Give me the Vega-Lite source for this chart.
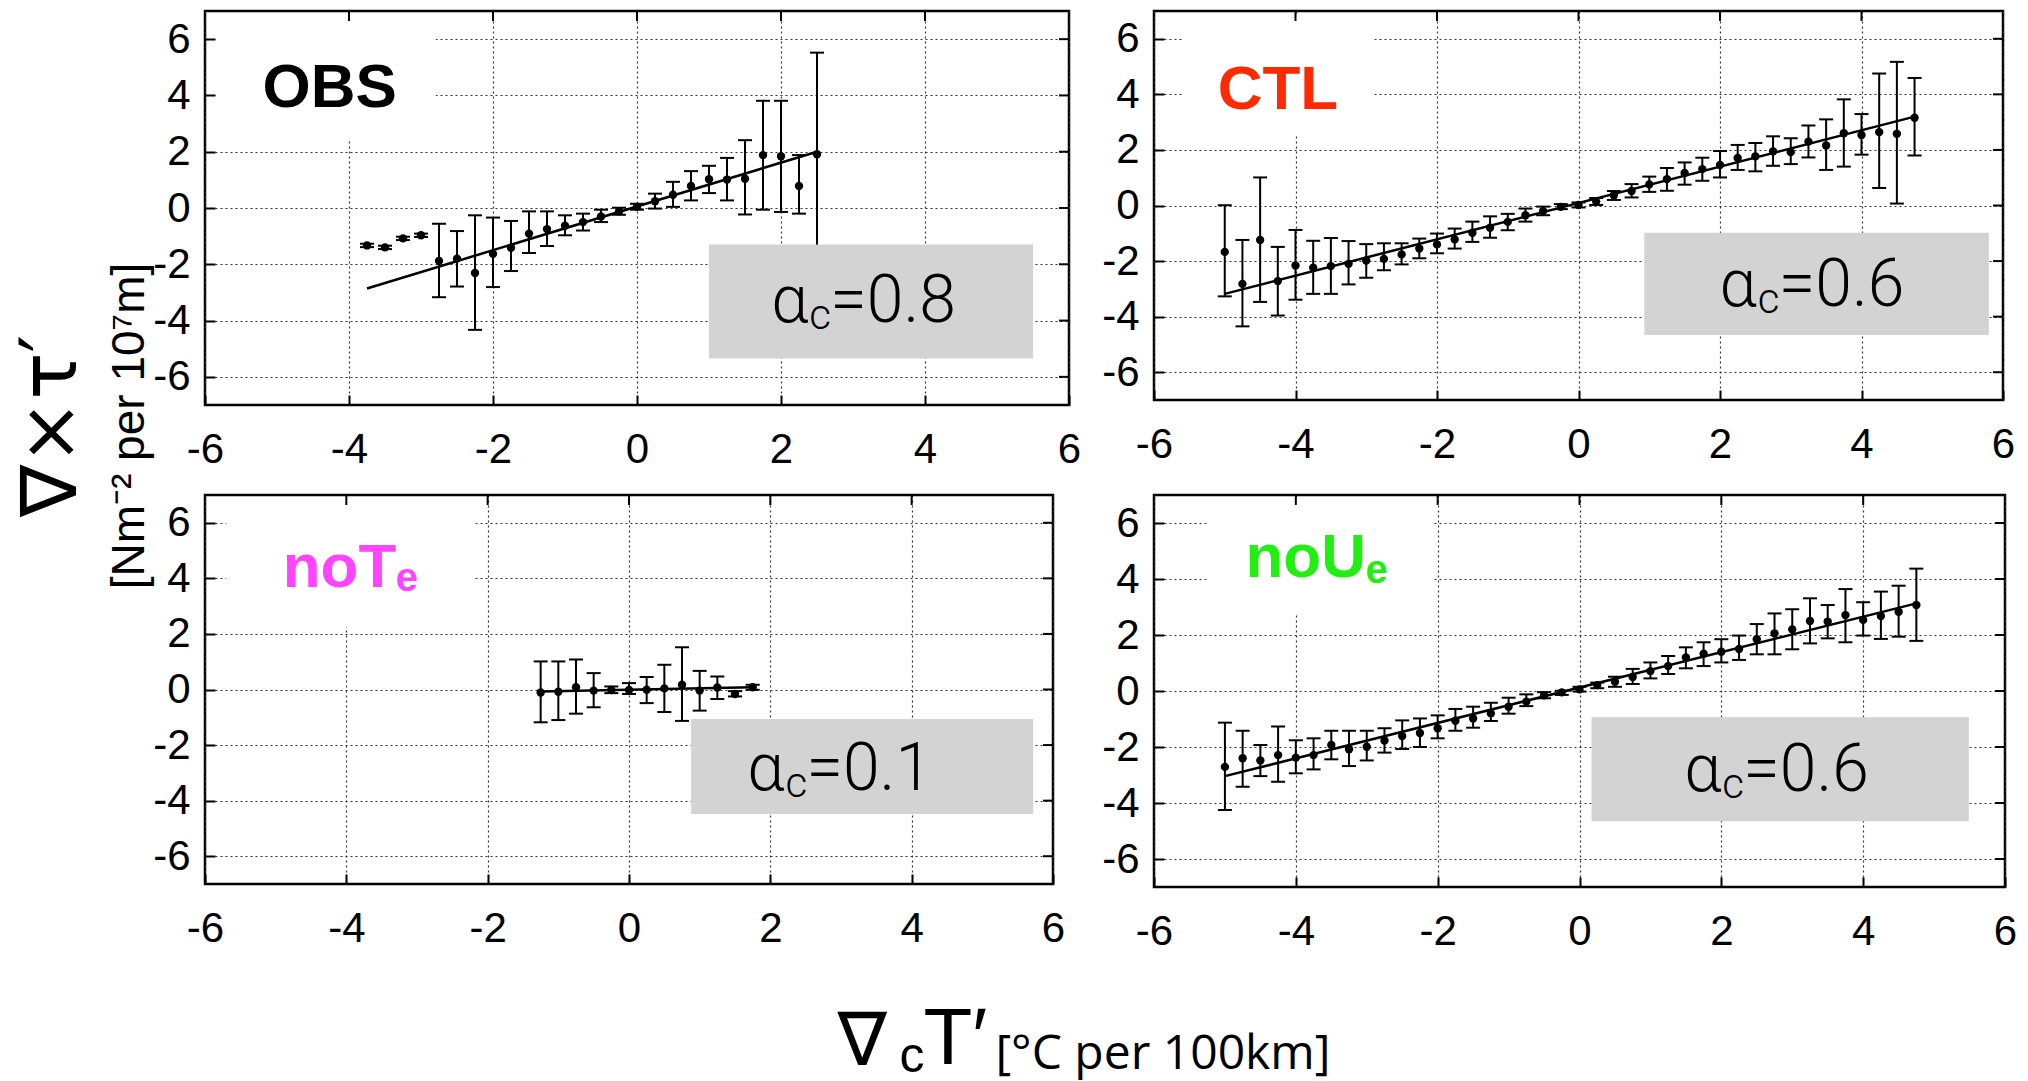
{
  "$schema": "https://vega.github.io/schema/vega-lite/v6.json",
  "background": "white",
  "autosize": {"type": "pad"},
  "padding": {"left": 14, "top": 9, "right": 0, "bottom": 30},
  "title": {
    "text": "∇×τ′",
    "subtitle": "[Nm⁻² per 10⁷m]",
    "orient": "left",
    "anchor": "middle",
    "font": "DejaVu Sans",
    "fontSize": 78,
    "fontWeight": "normal",
    "color": "#000",
    "subtitleFont": "Liberation Sans",
    "subtitleFontSize": 46,
    "subtitleColor": "#000",
    "subtitlePadding": 16,
    "offset": -2,
    "dx": 120
  },
  "vconcat": [
    {
      "title": {"text": "∇", "orient": "bottom", "anchor": "start", "baseline": "alphabetic", "font": "DejaVu Sans", "fontSize": 74, "fontWeight": "normal", "color": "#000", "offset": 0, "dx": 686, "dy": -17},
      "vconcat": [
        {
          "title": {"text": "c", "orient": "bottom", "anchor": "start", "baseline": "alphabetic", "font": "Liberation Sans", "fontSize": 50, "fontWeight": "normal", "color": "#000", "offset": 0, "dx": 748, "dy": -8},
          "vconcat": [
            {
              "title": {"text": "T′", "orient": "bottom", "anchor": "start", "baseline": "alphabetic", "font": "Liberation Sans", "fontSize": 80, "fontWeight": "normal", "color": "#000", "offset": 0, "dx": 772, "dy": -15},
              "vconcat": [
                {
                  "title": {"text": "[°C per 100km]", "orient": "bottom", "anchor": "start", "baseline": "alphabetic", "font": "Open Sans", "fontSize": 48, "fontWeight": "normal", "color": "#000", "offset": 0, "dx": 844, "dy": 116},
                  "columns": 2,
                  "bounds": "flush",
                  "spacing": {"row": 90, "column": 85},
                  "concat": [
                    {
                      "width": 864, "height": 394,
                      "data": {"values": [
                        {"x": -3.75, "y": -1.33, "lo": -1.39, "hi": -1.27},
                        {"x": -3.5, "y": -1.40, "lo": -1.46, "hi": -1.34},
                        {"x": -3.25, "y": -1.08, "lo": -1.14, "hi": -1.02},
                        {"x": -3.0, "y": -0.97, "lo": -1.03, "hi": -0.91},
                        {"x": -2.75, "y": -1.88, "lo": -3.17, "hi": -0.56},
                        {"x": -2.5, "y": -1.80, "lo": -2.79, "hi": -0.82},
                        {"x": -2.25, "y": -2.31, "lo": -4.33, "hi": -0.26},
                        {"x": -2.0, "y": -1.63, "lo": -2.81, "hi": -0.34},
                        {"x": -1.75, "y": -1.41, "lo": -2.24, "hi": -0.46},
                        {"x": -1.5, "y": -0.91, "lo": -1.60, "hi": -0.12},
                        {"x": -1.25, "y": -0.75, "lo": -1.35, "hi": -0.12},
                        {"x": -1.0, "y": -0.63, "lo": -0.97, "hi": -0.26},
                        {"x": -0.75, "y": -0.50, "lo": -0.80, "hi": -0.20},
                        {"x": -0.5, "y": -0.30, "lo": -0.50, "hi": -0.06},
                        {"x": -0.25, "y": -0.12, "lo": -0.24, "hi": 0.01},
                        {"x": 0.0, "y": 0.04, "lo": -0.06, "hi": 0.15},
                        {"x": 0.25, "y": 0.24, "lo": -0.02, "hi": 0.51},
                        {"x": 0.5, "y": 0.47, "lo": 0.04, "hi": 0.93},
                        {"x": 0.75, "y": 0.78, "lo": 0.27, "hi": 1.31},
                        {"x": 1.0, "y": 1.02, "lo": 0.53, "hi": 1.50},
                        {"x": 1.25, "y": 1.01, "lo": 0.27, "hi": 1.78},
                        {"x": 1.5, "y": 1.04, "lo": -0.23, "hi": 2.41},
                        {"x": 1.75, "y": 1.88, "lo": -0.06, "hi": 3.81},
                        {"x": 2.0, "y": 1.84, "lo": -0.14, "hi": 3.81},
                        {"x": 2.25, "y": 0.78, "lo": -0.20, "hi": 1.88},
                        {"x": 2.5, "y": 1.91, "lo": -1.70, "hi": 5.52}
                      ]},
                      "encoding": {
                        "x": {"field": "x", "type": "quantitative", "scale": {"domain": [-6, 6], "nice": false, "zero": false}, "axis": {"values": [-6, -4, -2, 0, 2, 4, 6], "title": null, "labelExpr": "datum.value < 0 ? '-' + abs(datum.value) : '' + datum.value"}},
                        "y": {"field": "y", "type": "quantitative", "scale": {"domain": [-7, 7], "nice": false, "zero": false}, "axis": {"values": [-6, -4, -2, 0, 2, 4, 6], "title": null, "labelExpr": "datum.value < 0 ? '-' + abs(datum.value) : '' + datum.value"}}
                      },
                      "layer": [
                        {"data": {"values": [{"x": -5.85, "x2": -2.8, "y": 6.85, "y2": 2.4}]}, "mark": {"type": "rect", "color": "#ffffff"}, "encoding": {"x2": {"field": "x2"}, "y2": {"field": "y2"}}},
                        {"data": {"values": [{"x": -4, "y": 7}, {"x": -2, "y": 7}, {"x": 0, "y": 7}, {"x": 2, "y": 7}, {"x": 4, "y": 7}]}, "mark": {"type": "tick", "orient": "vertical", "size": 10, "thickness": 2, "color": "#000", "opacity": 1, "yOffset": 5}},
                        {"data": {"values": [{"x": 6, "y": -6}, {"x": 6, "y": -4}, {"x": 6, "y": -2}, {"x": 6, "y": 0}, {"x": 6, "y": 2}, {"x": 6, "y": 4}, {"x": 6, "y": 6}]}, "mark": {"type": "tick", "orient": "horizontal", "size": 10, "thickness": 2, "color": "#000", "opacity": 1, "xOffset": -5}},
                        {"mark": {"type": "rule", "color": "#000", "strokeWidth": 2}, "encoding": {"y": {"field": "lo", "type": "quantitative", "axis": {"title": null}}, "y2": {"field": "hi"}}},
                        {"mark": {"type": "tick", "orient": "horizontal", "color": "#000", "size": 14, "thickness": 2, "opacity": 1}, "encoding": {"y": {"field": "lo", "type": "quantitative", "axis": {"title": null}}}},
                        {"mark": {"type": "tick", "orient": "horizontal", "color": "#000", "size": 14, "thickness": 2, "opacity": 1}, "encoding": {"y": {"field": "hi", "type": "quantitative", "axis": {"title": null}}}},
                        {"mark": {"type": "circle", "color": "#000", "size": 70, "opacity": 1}},
                        {"data": {"values": [{"x": -3.75, "y": -2.86}, {"x": 2.5, "y": 2.0}]}, "mark": {"type": "line", "color": "#000", "strokeWidth": 2.5}},
                        {"data": {"values": [{"x": 1.0, "x2": 5.5, "y": -1.3, "y2": -5.35}]}, "mark": {"type": "rect", "color": "#d3d3d3"}, "encoding": {"x2": {"field": "x2"}, "y2": {"field": "y2"}}},
                        {"data": {"values": [{"x": 2.38, "y": -4.05}]}, "layer": [
                          {"mark": {"type": "text", "text": "α", "align": "right", "baseline": "alphabetic", "font": "Roboto", "fontWeight": 300, "fontSize": 66, "color": "#000"}},
                          {"mark": {"type": "text", "text": "c", "align": "left", "baseline": "alphabetic", "font": "Roboto", "fontWeight": 300, "fontSize": 42, "dx": 1, "dy": 7, "color": "#000"}},
                          {"mark": {"type": "text", "text": "=0.8", "align": "left", "baseline": "alphabetic", "font": "Roboto", "fontWeight": 300, "fontSize": 66, "dx": 22, "color": "#000"}}
                        ]},
                        {"data": {"values": [{"x": -5.2, "y": 3.59}]}, "mark": {"type": "text", "text": "OBS", "align": "left", "baseline": "alphabetic", "font": "Liberation Sans", "fontWeight": "bold", "fontSize": 62, "color": "#000"}}
                      ]
                    },
                    {
                      "width": 849, "height": 389,
                      "data": {"values": [
                        {"x": -5, "y": -1.67, "lo": -3.27, "hi": 0.01},
                        {"x": -4.75, "y": -2.82, "lo": -4.35, "hi": -1.24},
                        {"x": -4.5, "y": -1.24, "lo": -3.47, "hi": 1.01},
                        {"x": -4.25, "y": -2.72, "lo": -3.96, "hi": -1.49},
                        {"x": -4, "y": -2.16, "lo": -3.39, "hi": -0.88},
                        {"x": -3.75, "y": -2.24, "lo": -3.18, "hi": -1.27},
                        {"x": -3.5, "y": -2.18, "lo": -3.18, "hi": -1.17},
                        {"x": -3.25, "y": -2.10, "lo": -2.84, "hi": -1.28},
                        {"x": -3, "y": -1.98, "lo": -2.60, "hi": -1.39},
                        {"x": -2.75, "y": -1.92, "lo": -2.33, "hi": -1.36},
                        {"x": -2.5, "y": -1.76, "lo": -2.12, "hi": -1.36},
                        {"x": -2.25, "y": -1.55, "lo": -1.90, "hi": -1.19},
                        {"x": -2, "y": -1.40, "lo": -1.72, "hi": -1.01},
                        {"x": -1.75, "y": -1.22, "lo": -1.55, "hi": -0.83},
                        {"x": -1.5, "y": -0.98, "lo": -1.31, "hi": -0.58},
                        {"x": -1.25, "y": -0.80, "lo": -1.16, "hi": -0.39},
                        {"x": -1, "y": -0.59, "lo": -0.89, "hi": -0.30},
                        {"x": -0.75, "y": -0.35, "lo": -0.58, "hi": -0.11},
                        {"x": -0.5, "y": -0.20, "lo": -0.35, "hi": -0.04},
                        {"x": -0.25, "y": -0.05, "lo": -0.13, "hi": 0.05},
                        {"x": 0, "y": 0.02, "lo": -0.07, "hi": 0.11},
                        {"x": 0.25, "y": 0.14, "lo": 0.02, "hi": 0.27},
                        {"x": 0.5, "y": 0.37, "lo": 0.20, "hi": 0.52},
                        {"x": 0.75, "y": 0.52, "lo": 0.29, "hi": 0.77},
                        {"x": 1, "y": 0.76, "lo": 0.49, "hi": 1.04},
                        {"x": 1.25, "y": 0.95, "lo": 0.53, "hi": 1.35},
                        {"x": 1.5, "y": 1.17, "lo": 0.75, "hi": 1.55},
                        {"x": 1.75, "y": 1.31, "lo": 0.89, "hi": 1.72},
                        {"x": 2, "y": 1.46, "lo": 1.01, "hi": 1.96},
                        {"x": 2.25, "y": 1.71, "lo": 1.28, "hi": 2.18},
                        {"x": 2.5, "y": 1.77, "lo": 1.23, "hi": 2.25},
                        {"x": 2.75, "y": 1.95, "lo": 1.43, "hi": 2.49},
                        {"x": 3, "y": 1.92, "lo": 1.49, "hi": 2.42},
                        {"x": 3.25, "y": 2.30, "lo": 1.73, "hi": 2.88},
                        {"x": 3.5, "y": 2.16, "lo": 1.28, "hi": 3.10},
                        {"x": 3.75, "y": 2.60, "lo": 1.40, "hi": 3.82},
                        {"x": 4, "y": 2.54, "lo": 1.83, "hi": 3.29},
                        {"x": 4.25, "y": 2.64, "lo": 0.63, "hi": 4.75},
                        {"x": 4.5, "y": 2.58, "lo": 0.07, "hi": 5.17},
                        {"x": 4.75, "y": 3.16, "lo": 1.80, "hi": 4.59}
                      ]},
                      "encoding": {
                        "x": {"field": "x", "type": "quantitative", "scale": {"domain": [-6, 6], "nice": false, "zero": false}, "axis": {"values": [-6, -4, -2, 0, 2, 4, 6], "title": null, "labelExpr": "datum.value < 0 ? '-' + abs(datum.value) : '' + datum.value"}},
                        "y": {"field": "y", "type": "quantitative", "scale": {"domain": [-7, 7], "nice": false, "zero": false}, "axis": {"values": [-6, -4, -2, 0, 2, 4, 6], "title": null, "labelExpr": "datum.value < 0 ? '-' + abs(datum.value) : '' + datum.value"}}
                      },
                      "layer": [
                        {"data": {"values": [{"x": -5.6, "x2": -2.9, "y": 6.85, "y2": 2.5}]}, "mark": {"type": "rect", "color": "#ffffff"}, "encoding": {"x2": {"field": "x2"}, "y2": {"field": "y2"}}},
                        {"data": {"values": [{"x": -4, "y": 7}, {"x": -2, "y": 7}, {"x": 0, "y": 7}, {"x": 2, "y": 7}, {"x": 4, "y": 7}]}, "mark": {"type": "tick", "orient": "vertical", "size": 10, "thickness": 2, "color": "#000", "opacity": 1, "yOffset": 5}},
                        {"data": {"values": [{"x": 6, "y": -6}, {"x": 6, "y": -4}, {"x": 6, "y": -2}, {"x": 6, "y": 0}, {"x": 6, "y": 2}, {"x": 6, "y": 4}, {"x": 6, "y": 6}]}, "mark": {"type": "tick", "orient": "horizontal", "size": 10, "thickness": 2, "color": "#000", "opacity": 1, "xOffset": -5}},
                        {"mark": {"type": "rule", "color": "#000", "strokeWidth": 2}, "encoding": {"y": {"field": "lo", "type": "quantitative", "axis": {"title": null}}, "y2": {"field": "hi"}}},
                        {"mark": {"type": "tick", "orient": "horizontal", "color": "#000", "size": 14, "thickness": 2, "opacity": 1}, "encoding": {"y": {"field": "lo", "type": "quantitative", "axis": {"title": null}}}},
                        {"mark": {"type": "tick", "orient": "horizontal", "color": "#000", "size": 14, "thickness": 2, "opacity": 1}, "encoding": {"y": {"field": "hi", "type": "quantitative", "axis": {"title": null}}}},
                        {"mark": {"type": "circle", "color": "#000", "size": 70, "opacity": 1}},
                        {"data": {"values": [{"x": -5, "y": -3.18}, {"x": 4.75, "y": 3.2}]}, "mark": {"type": "line", "color": "#000", "strokeWidth": 2.5}},
                        {"data": {"values": [{"x": 0.93, "x2": 5.8, "y": -0.98, "y2": -4.66}]}, "mark": {"type": "rect", "color": "#d3d3d3"}, "encoding": {"x2": {"field": "x2"}, "y2": {"field": "y2"}}},
                        {"data": {"values": [{"x": 2.52, "y": -3.61}]}, "layer": [
                          {"mark": {"type": "text", "text": "α", "align": "right", "baseline": "alphabetic", "font": "Roboto", "fontWeight": 300, "fontSize": 66, "color": "#000"}},
                          {"mark": {"type": "text", "text": "c", "align": "left", "baseline": "alphabetic", "font": "Roboto", "fontWeight": 300, "fontSize": 42, "dx": 1, "dy": 7, "color": "#000"}},
                          {"mark": {"type": "text", "text": "=0.6", "align": "left", "baseline": "alphabetic", "font": "Roboto", "fontWeight": 300, "fontSize": 66, "dx": 22, "color": "#000"}}
                        ]},
                        {"data": {"values": [{"x": -5.1, "y": 3.47}]}, "mark": {"type": "text", "text": "CTL", "align": "left", "baseline": "alphabetic", "font": "Liberation Sans", "fontWeight": "bold", "fontSize": 62, "color": "#ff2a00"}}
                      ]
                    },
                    {
                      "width": 848, "height": 389,
                      "data": {"values": [
                        {"x": -1.25, "y": -0.11, "lo": -1.18, "hi": 1.01},
                        {"x": -1, "y": -0.08, "lo": -1.10, "hi": 1.01},
                        {"x": -0.75, "y": 0.08, "lo": -0.87, "hi": 1.08},
                        {"x": -0.5, "y": -0.04, "lo": -0.64, "hi": 0.59},
                        {"x": -0.25, "y": -0.02, "lo": -0.13, "hi": 0.11},
                        {"x": 0, "y": -0.02, "lo": -0.16, "hi": 0.23},
                        {"x": 0.25, "y": -0.01, "lo": -0.49, "hi": 0.45},
                        {"x": 0.5, "y": 0.04, "lo": -0.81, "hi": 0.89},
                        {"x": 0.75, "y": 0.17, "lo": -1.13, "hi": 1.52},
                        {"x": 1, "y": -0.04, "lo": -0.76, "hi": 0.67},
                        {"x": 1.25, "y": 0.07, "lo": -0.34, "hi": 0.47},
                        {"x": 1.5, "y": -0.16, "lo": -0.25, "hi": -0.06},
                        {"x": 1.75, "y": 0.08, "lo": -0.01, "hi": 0.17}
                      ]},
                      "encoding": {
                        "x": {"field": "x", "type": "quantitative", "scale": {"domain": [-6, 6], "nice": false, "zero": false}, "axis": {"values": [-6, -4, -2, 0, 2, 4, 6], "title": null, "labelExpr": "datum.value < 0 ? '-' + abs(datum.value) : '' + datum.value"}},
                        "y": {"field": "y", "type": "quantitative", "scale": {"domain": [-7, 7], "nice": false, "zero": false}, "axis": {"values": [-6, -4, -2, 0, 2, 4, 6], "title": null, "labelExpr": "datum.value < 0 ? '-' + abs(datum.value) : '' + datum.value"}}
                      },
                      "layer": [
                        {"data": {"values": [{"x": -5.7, "x2": -2.2, "y": 6.85, "y2": 2.25}]}, "mark": {"type": "rect", "color": "#ffffff"}, "encoding": {"x2": {"field": "x2"}, "y2": {"field": "y2"}}},
                        {"data": {"values": [{"x": -4, "y": 7}, {"x": -2, "y": 7}, {"x": 0, "y": 7}, {"x": 2, "y": 7}, {"x": 4, "y": 7}]}, "mark": {"type": "tick", "orient": "vertical", "size": 10, "thickness": 2, "color": "#000", "opacity": 1, "yOffset": 5}},
                        {"data": {"values": [{"x": 6, "y": -6}, {"x": 6, "y": -4}, {"x": 6, "y": -2}, {"x": 6, "y": 0}, {"x": 6, "y": 2}, {"x": 6, "y": 4}, {"x": 6, "y": 6}]}, "mark": {"type": "tick", "orient": "horizontal", "size": 10, "thickness": 2, "color": "#000", "opacity": 1, "xOffset": -5}},
                        {"mark": {"type": "rule", "color": "#000", "strokeWidth": 2}, "encoding": {"y": {"field": "lo", "type": "quantitative", "axis": {"title": null}}, "y2": {"field": "hi"}}},
                        {"mark": {"type": "tick", "orient": "horizontal", "color": "#000", "size": 14, "thickness": 2, "opacity": 1}, "encoding": {"y": {"field": "lo", "type": "quantitative", "axis": {"title": null}}}},
                        {"mark": {"type": "tick", "orient": "horizontal", "color": "#000", "size": 14, "thickness": 2, "opacity": 1}, "encoding": {"y": {"field": "hi", "type": "quantitative", "axis": {"title": null}}}},
                        {"mark": {"type": "circle", "color": "#000", "size": 70, "opacity": 1}},
                        {"data": {"values": [{"x": -1.25, "y": -0.07}, {"x": 1.75, "y": 0.08}]}, "mark": {"type": "line", "color": "#000", "strokeWidth": 2.5}},
                        {"data": {"values": [{"x": 0.88, "x2": 5.72, "y": -1.06, "y2": -4.48}]}, "mark": {"type": "rect", "color": "#d3d3d3"}, "encoding": {"x2": {"field": "x2"}, "y2": {"field": "y2"}}},
                        {"data": {"values": [{"x": 2.2, "y": -3.62}]}, "layer": [
                          {"mark": {"type": "text", "text": "α", "align": "right", "baseline": "alphabetic", "font": "Roboto", "fontWeight": 300, "fontSize": 66, "color": "#000"}},
                          {"mark": {"type": "text", "text": "c", "align": "left", "baseline": "alphabetic", "font": "Roboto", "fontWeight": 300, "fontSize": 42, "dx": 1, "dy": 7, "color": "#000"}},
                          {"mark": {"type": "text", "text": "=0.1", "align": "left", "baseline": "alphabetic", "font": "Roboto", "fontWeight": 300, "fontSize": 66, "dx": 22, "color": "#000"}}
                        ]},
                        {"data": {"values": [{"x": -4.9, "y": 3.69}]}, "layer": [
                          {"mark": {"type": "text", "text": "noT", "align": "left", "baseline": "alphabetic", "font": "Liberation Sans", "fontWeight": "bold", "fontSize": 62, "color": "#ff44ff"}},
                          {"mark": {"type": "text", "text": "e", "align": "left", "baseline": "alphabetic", "font": "Liberation Sans", "fontWeight": "bold", "fontSize": 40, "dx": 113, "dy": 4, "color": "#ff44ff"}}
                        ]}
                      ]
                    },
                    {
                      "width": 851, "height": 392,
                      "data": {"values": [
                        {"x": -5, "y": -2.71, "lo": -4.25, "hi": -1.13},
                        {"x": -4.75, "y": -2.40, "lo": -3.42, "hi": -1.42},
                        {"x": -4.5, "y": -2.48, "lo": -3.04, "hi": -1.93},
                        {"x": -4.25, "y": -2.29, "lo": -3.24, "hi": -1.27},
                        {"x": -4, "y": -2.38, "lo": -2.94, "hi": -1.76},
                        {"x": -3.75, "y": -2.29, "lo": -2.80, "hi": -1.69},
                        {"x": -3.5, "y": -1.93, "lo": -2.44, "hi": -1.42},
                        {"x": -3.25, "y": -2.08, "lo": -2.68, "hi": -1.42},
                        {"x": -3, "y": -1.99, "lo": -2.48, "hi": -1.42},
                        {"x": -2.75, "y": -1.77, "lo": -2.20, "hi": -1.33},
                        {"x": -2.5, "y": -1.61, "lo": -2.07, "hi": -1.05},
                        {"x": -2.25, "y": -1.50, "lo": -2.00, "hi": -0.98},
                        {"x": -2, "y": -1.33, "lo": -1.69, "hi": -0.87},
                        {"x": -1.75, "y": -1.06, "lo": -1.42, "hi": -0.64},
                        {"x": -1.5, "y": -0.98, "lo": -1.31, "hi": -0.56},
                        {"x": -1.25, "y": -0.80, "lo": -1.07, "hi": -0.42},
                        {"x": -1, "y": -0.56, "lo": -0.81, "hi": -0.24},
                        {"x": -0.75, "y": -0.38, "lo": -0.54, "hi": -0.12},
                        {"x": -0.5, "y": -0.15, "lo": -0.26, "hi": -0.04},
                        {"x": -0.25, "y": -0.05, "lo": -0.14, "hi": 0.01},
                        {"x": 0, "y": 0.06, "lo": -0.02, "hi": 0.15},
                        {"x": 0.25, "y": 0.21, "lo": 0.10, "hi": 0.30},
                        {"x": 0.5, "y": 0.33, "lo": 0.15, "hi": 0.51},
                        {"x": 0.75, "y": 0.50, "lo": 0.25, "hi": 0.79},
                        {"x": 1, "y": 0.71, "lo": 0.45, "hi": 1.02},
                        {"x": 1.25, "y": 0.89, "lo": 0.61, "hi": 1.25},
                        {"x": 1.5, "y": 1.20, "lo": 0.81, "hi": 1.56},
                        {"x": 1.75, "y": 1.33, "lo": 0.89, "hi": 1.74},
                        {"x": 2, "y": 1.40, "lo": 1.02, "hi": 1.85},
                        {"x": 2.25, "y": 1.50, "lo": 1.11, "hi": 1.98},
                        {"x": 2.5, "y": 1.85, "lo": 1.31, "hi": 2.39},
                        {"x": 2.75, "y": 2.06, "lo": 1.31, "hi": 2.77},
                        {"x": 3, "y": 2.20, "lo": 1.49, "hi": 2.92},
                        {"x": 3.25, "y": 2.50, "lo": 1.70, "hi": 3.31},
                        {"x": 3.5, "y": 2.48, "lo": 1.88, "hi": 3.07},
                        {"x": 3.75, "y": 2.71, "lo": 1.74, "hi": 3.64},
                        {"x": 4, "y": 2.54, "lo": 1.98, "hi": 3.17},
                        {"x": 4.25, "y": 2.68, "lo": 1.86, "hi": 3.55},
                        {"x": 4.5, "y": 2.83, "lo": 1.94, "hi": 3.76},
                        {"x": 4.75, "y": 3.07, "lo": 1.79, "hi": 4.37}
                      ]},
                      "encoding": {
                        "x": {"field": "x", "type": "quantitative", "scale": {"domain": [-6, 6], "nice": false, "zero": false}, "axis": {"values": [-6, -4, -2, 0, 2, 4, 6], "title": null, "labelExpr": "datum.value < 0 ? '-' + abs(datum.value) : '' + datum.value"}},
                        "y": {"field": "y", "type": "quantitative", "scale": {"domain": [-7, 7], "nice": false, "zero": false}, "axis": {"values": [-6, -4, -2, 0, 2, 4, 6], "title": null, "labelExpr": "datum.value < 0 ? '-' + abs(datum.value) : '' + datum.value"}}
                      },
                      "layer": [
                        {"data": {"values": [{"x": -5.25, "x2": -2.05, "y": 6.85, "y2": 2.76}]}, "mark": {"type": "rect", "color": "#ffffff"}, "encoding": {"x2": {"field": "x2"}, "y2": {"field": "y2"}}},
                        {"data": {"values": [{"x": -4, "y": 7}, {"x": -2, "y": 7}, {"x": 0, "y": 7}, {"x": 2, "y": 7}, {"x": 4, "y": 7}]}, "mark": {"type": "tick", "orient": "vertical", "size": 10, "thickness": 2, "color": "#000", "opacity": 1, "yOffset": 5}},
                        {"data": {"values": [{"x": 6, "y": -6}, {"x": 6, "y": -4}, {"x": 6, "y": -2}, {"x": 6, "y": 0}, {"x": 6, "y": 2}, {"x": 6, "y": 4}, {"x": 6, "y": 6}]}, "mark": {"type": "tick", "orient": "horizontal", "size": 10, "thickness": 2, "color": "#000", "opacity": 1, "xOffset": -5}},
                        {"mark": {"type": "rule", "color": "#000", "strokeWidth": 2}, "encoding": {"y": {"field": "lo", "type": "quantitative", "axis": {"title": null}}, "y2": {"field": "hi"}}},
                        {"mark": {"type": "tick", "orient": "horizontal", "color": "#000", "size": 14, "thickness": 2, "opacity": 1}, "encoding": {"y": {"field": "lo", "type": "quantitative", "axis": {"title": null}}}},
                        {"mark": {"type": "tick", "orient": "horizontal", "color": "#000", "size": 14, "thickness": 2, "opacity": 1}, "encoding": {"y": {"field": "hi", "type": "quantitative", "axis": {"title": null}}}},
                        {"mark": {"type": "circle", "color": "#000", "size": 70, "opacity": 1}},
                        {"data": {"values": [{"x": -5, "y": -3.04}, {"x": 4.75, "y": 3.13}]}, "mark": {"type": "line", "color": "#000", "strokeWidth": 2.5}},
                        {"data": {"values": [{"x": 0.17, "x2": 5.49, "y": -0.94, "y2": -4.65}]}, "mark": {"type": "rect", "color": "#d3d3d3"}, "encoding": {"x2": {"field": "x2"}, "y2": {"field": "y2"}}},
                        {"data": {"values": [{"x": 2.0, "y": -3.58}]}, "layer": [
                          {"mark": {"type": "text", "text": "α", "align": "right", "baseline": "alphabetic", "font": "Roboto", "fontWeight": 300, "fontSize": 66, "color": "#000"}},
                          {"mark": {"type": "text", "text": "c", "align": "left", "baseline": "alphabetic", "font": "Roboto", "fontWeight": 300, "fontSize": 42, "dx": 1, "dy": 7, "color": "#000"}},
                          {"mark": {"type": "text", "text": "=0.6", "align": "left", "baseline": "alphabetic", "font": "Roboto", "fontWeight": 300, "fontSize": 66, "dx": 22, "color": "#000"}}
                        ]},
                        {"data": {"values": [{"x": -4.71, "y": 4.08}]}, "layer": [
                          {"mark": {"type": "text", "text": "noU", "align": "left", "baseline": "alphabetic", "font": "Liberation Sans", "fontWeight": "bold", "fontSize": 62, "color": "#22ee11"}},
                          {"mark": {"type": "text", "text": "e", "align": "left", "baseline": "alphabetic", "font": "Liberation Sans", "fontWeight": "bold", "fontSize": 40, "dx": 120, "dy": 6, "color": "#22ee11"}}
                        ]}
                      ]
                    }
                  ]
                }
              ]
            }
          ]
        }
      ]
    }
  ],
  "config": {
    "view": {"stroke": "#000", "strokeWidth": 2.5},
    "axis": {
      "grid": true, "gridColor": "#333", "gridDash": [2, 3], "gridWidth": 1.2,
      "domain": false, "ticks": true, "tickColor": "#000", "tickWidth": 2, "tickSize": -10,
      "labelFont": "Liberation Sans", "labelFontSize": 42, "labelColor": "#000",
      "labelFlush": false, "labelOverlap": false, "labelBound": false
    },
    "axisX": {"labelPadding": 34},
    "axisY": {"labelPadding": 25}
  }
}
